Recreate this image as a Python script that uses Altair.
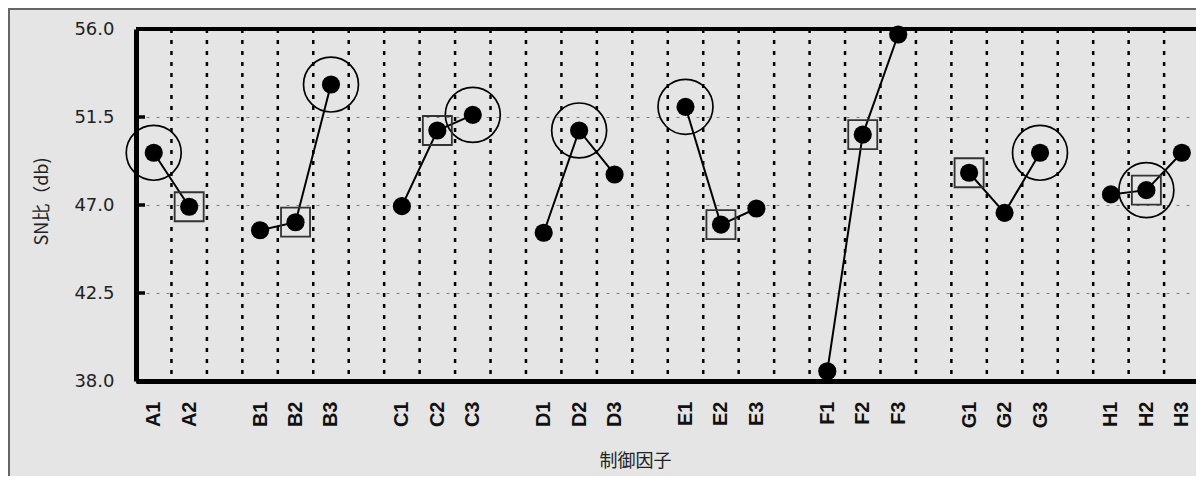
import altair as alt
import pandas as pd

# ---- data ----
factors = ["A", "B", "C", "D", "E", "F", "G", "H"]
levels = [2, 3, 3, 3, 3, 3, 3, 3]
labels = ["A1", "A2", "B1", "B2", "B3", "C1", "C2", "C3", "D1", "D2", "D3",
          "E1", "E2", "E3", "F1", "F2", "F3", "G1", "G2", "G3", "H1", "H2", "H3"]
sn = [49.67, 46.91,
      45.71, 46.12, 53.16,
      46.94, 50.81, 51.61,
      45.58, 50.81, 48.56,
      52.02, 46.00, 46.82,
      38.50, 50.60, 55.72,
      48.65, 46.60, 49.67,
      47.54, 47.76, 49.67]
best = ["A1", "B3", "C3", "D2", "E1", "G3", "H2"]
current = ["A2", "B2", "C2", "E2", "F2", "G1", "H2"]
y_ticks = [38.0, 42.5, 47.0, 51.5, 56.0]

# ---- slot layout: levels of each factor, then one empty slot ----
slot_names = []
for f, n in zip(factors, levels):
    for k in range(n):
        slot_names.append(f"{f}{k + 1}")
    slot_names.append("")
n_slots = 30
visible_slots = 29.9   # the right end of the plot runs to the picture edge

pos = [slot_names.index(l) + 0.5 for l in labels]
df = pd.DataFrame({
    "label": labels,
    "factor": [l[0] for l in labels],
    "pos": pos,
    "sn": sn,
})
df_best = df[df["label"].isin(best)]
df_cur = df[df["label"].isin(current)]
grid_df = pd.DataFrame({"pos": list(range(1, n_slots))})
ytick_df = pd.DataFrame({"sn": y_ticks})
one_df = pd.DataFrame({"k": [0]})

label_list = "[" + ",".join("'" + s + "'" for s in slot_names) + "]"
centers = [i + 0.5 for i, s in enumerate(slot_names) if s]

W = 1060
H = 352

x_axis = alt.Axis(
    values=centers,
    labelExpr=label_list + "[floor(datum.value)]",
    labelAngle=270,
    labelFont="Liberation Sans",
    labelFontWeight="bold",
    labelFontSize=20,
    labelColor="#111111",
    labelPadding=20,
    labelFlush=False,
    labelOverlap=False,
    labelBound=False,
    ticks=False,
    grid=False,
    domainColor="black",
    domainWidth=5,
    title="制御因子",
    titleFont="Noto Sans CJK JP",
    titleFontSize=18,
    titleFontWeight="normal",
    titleColor="#222222",
    titleX=499,
    titleY=80,
    titleAlign="center",
    titleBaseline="middle",
)
y_axis = alt.Axis(
    values=y_ticks,
    format=".1f",
    labelFont="DejaVu Sans",
    labelFontSize=18,
    labelColor="#222222",
    labelPadding=22,
    labelFlush=False,
    ticks=False,
    grid=True,
    gridColor="#808080",
    gridDash=[3, 7],
    gridWidth=1.2,
    domainColor="black",
    domainWidth=5,
    title="SN比（db)",
    titleFont="Noto Sans CJK JP",
    titleFontSize=18,
    titleFontWeight="normal",
    titleColor="#222222",
    titleX=-94,
    titleY=172,
    titleAlign="center",
    titleBaseline="middle",
    titleAngle=270,
)

X = alt.X("pos:Q", scale=alt.Scale(domain=[0, visible_slots], nice=False, zero=False), axis=x_axis)
Y = alt.Y("sn:Q", scale=alt.Scale(domain=[38, 56], nice=False, zero=False), axis=y_axis)

frame = alt.Chart(one_df).mark_rect(
    fill=None, stroke="#666666", strokeWidth=2
).encode(x=alt.value(-127), x2=alt.value(2000), y=alt.value(-20), y2=alt.value(1000))

top_line = alt.Chart(one_df).mark_rule(color="black", strokeWidth=4).encode(
    x=alt.value(0), x2=alt.value(W + 20), y=alt.value(0)
)

vgrid = alt.Chart(grid_df).mark_rule(
    color="black", strokeWidth=2.5, strokeDash=[4, 7]
).encode(x=X)

yticks = alt.Chart(ytick_df).mark_rule(color="black", strokeWidth=3.5).encode(
    y=Y, x=alt.value(0), x2=alt.value(9)
)

lines = alt.Chart(df).mark_line(color="black", strokeWidth=2).encode(
    x=X, y=Y, detail="factor:N", order="pos:Q"
)

circles = alt.Chart(df_best).mark_point(
    shape="circle", size=3019, filled=False, color="black", strokeWidth=1.7, opacity=1
).encode(x=X, y=Y)

squares = alt.Chart(df_cur).mark_point(
    shape="square", size=841, filled=False, color="#333333", strokeWidth=1.8, opacity=1
).encode(x=X, y=Y)

points = alt.Chart(df).mark_circle(size=330, color="black", opacity=1).encode(x=X, y=Y)

chart = alt.layer(frame, vgrid, yticks, top_line, lines, circles, squares, points).properties(
    width=W,
    height=H,
    autosize=alt.AutoSizeParams(type="none"),
    padding={"left": 128, "top": 21, "right": 0, "bottom": 95},
).configure(background="#e5e5e5").configure_view(
    stroke=None
)

chart.save("out.html", embed_options={"renderer": "svg", "actions": False})
